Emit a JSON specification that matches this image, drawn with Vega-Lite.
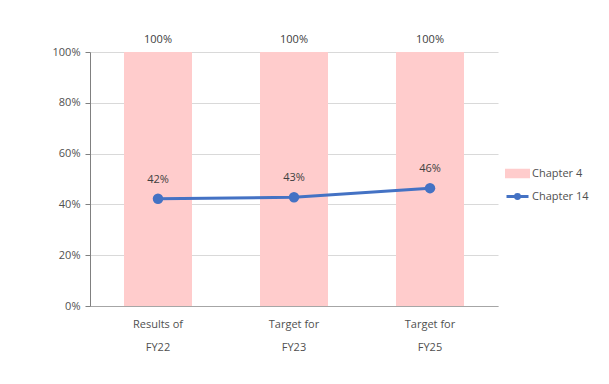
{
  "$schema": "https://vega.github.io/schema/vega-lite/v6.json",
  "width": 408,
  "height": 254,
  "autosize": {"type": "none"},
  "padding": {"left": 90, "top": 52, "right": 111, "bottom": 78},
  "background": "white",
  "config": {
    "view": {"stroke": null},
    "font": "Open Sans",
    "axis": {"labelFont": "Open Sans", "labelColor": "#505050", "labelFontSize": 11},
    "axisY": {
      "title": null, "format": ".0%", "tickCount": 5, "labelOverlap": false,
      "gridColor": "#d9d9d9", "domainColor": "#808080", "tickColor": "#808080",
      "tickSize": 5, "labelPadding": 5, "domain": true
    }
  },
  "data": {
    "values": [
      {"cat": "Results of|FY22", "ch4": 1, "ch14": 0.422},
      {"cat": "Target for|FY23", "ch4": 1, "ch14": 0.428},
      {"cat": "Target for|FY25", "ch4": 1, "ch14": 0.464}
    ]
  },
  "encoding": {
    "x": {
      "field": "cat", "type": "nominal", "sort": null,
      "scale": {"paddingInner": 0.5, "paddingOuter": 0.25},
      "axis": {
        "title": null, "labelAngle": 0, "ticks": false, "domainColor": "#a6a6a6",
        "labelPadding": 12, "labelLineHeight": 23,
        "labelExpr": "split(datum.value, '|')"
      }
    }
  },
  "layer": [
    {
      "mark": {"type": "bar", "fill": "#ffcccc"},
      "encoding": {
        "y": {
          "field": "ch4", "type": "quantitative",
          "scale": {"domain": [0, 1]}, "title": null
        },
        "color": {
          "datum": "Chapter 4", "type": "nominal",
          "scale": {"domain": ["Chapter 4", "Chapter 14"], "range": ["#ffcccc", "#4472c4"]},
          "legend": {
            "title": null, "orient": "none", "legendX": 415, "legendY": 109,
            "labelFontSize": 11, "labelColor": "#505050", "labelFont": "Open Sans",
            "rowPadding": 1, "symbolSize": 484, "labelOffset": 2,
            "encode": {
              "symbols": {
                "update": {
                  "shape": {"signal": "datum.value == 'Chapter 4' ? 'M-1,-0.3H1V0.3H-1Z' : 'M-1,0H1M-0.18,0A0.18,0.18 0 1,1 0.18,0A0.18,0.18 0 1,1 -0.18,0Z'"},
                  "fill": {"signal": "datum.value == 'Chapter 4' ? '#ffcccc' : '#4472c4'"},
                  "stroke": {"signal": "datum.value == 'Chapter 4' ? null : '#4472c4'"},
                  "strokeWidth": {"value": 3},
                  "opacity": {"value": 1},
                  "fillOpacity": {"value": 1}
                }
              }
            }
          }
        }
      }
    },
    {
      "mark": {"type": "text", "dy": -12, "fontSize": 11, "color": "#404040", "font": "Open Sans"},
      "encoding": {
        "y": {"field": "ch4", "type": "quantitative", "title": null},
        "text": {"field": "ch4", "type": "quantitative", "format": ".0%"}
      }
    },
    {
      "mark": {"type": "line", "stroke": "#4472c4", "strokeWidth": 3, "point": {"filled": true, "size": 110, "fill": "#4472c4"}},
      "encoding": {
        "y": {"field": "ch14", "type": "quantitative", "title": null},
        "color": {"datum": "Chapter 14", "type": "nominal"}
      }
    },
    {
      "mark": {"type": "text", "dy": -19, "fontSize": 11, "color": "#404040", "font": "Open Sans"},
      "encoding": {
        "y": {"field": "ch14", "type": "quantitative", "title": null},
        "text": {"field": "ch14", "type": "quantitative", "format": ".0%"}
      }
    }
  ]
}
